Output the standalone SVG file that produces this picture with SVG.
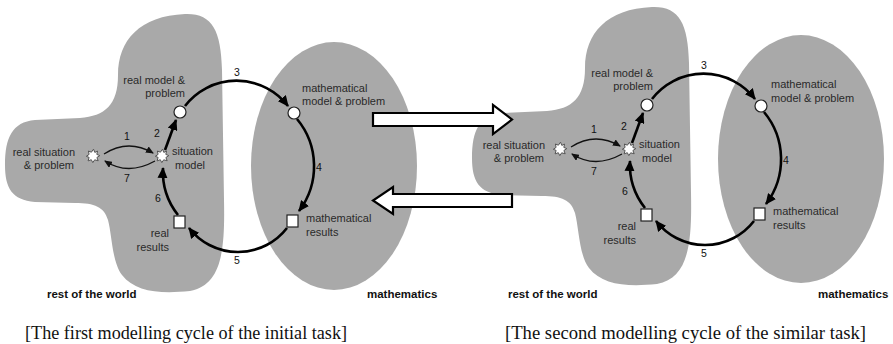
<svg xmlns="http://www.w3.org/2000/svg" xmlns:xlink="http://www.w3.org/1999/xlink" width="893" height="344" viewBox="0 0 893 344">
<style>
.blob{fill:#a9a9a9;stroke:none}
.lbl{font-family:"Liberation Sans",Arial,sans-serif;font-size:11px;fill:#2a2a2a}
.num{font-family:"Liberation Sans",Arial,sans-serif;font-size:10.5px;fill:#111}
.area{font-family:"Liberation Sans",Arial,sans-serif;font-size:11.5px;font-weight:bold;fill:#111}
.cap{font-family:"Liberation Serif","Times New Roman",serif;font-size:18px;fill:#111}
.thick{fill:none;stroke:#000;stroke-width:2.6;marker-end:url(#ah)}
.thin{fill:none;stroke:#111;stroke-width:1.3;marker-end:url(#ahs)}
.node{fill:#fff;stroke:#222;stroke-width:1.2}
.star{fill:#fff;stroke:#555;stroke-width:1}
.big{fill:#fff;stroke:#000;stroke-width:2.2;stroke-linejoin:miter}
.end{text-anchor:end}
.mid{text-anchor:middle}
</style>
<defs>
<marker id="ah" markerUnits="userSpaceOnUse" markerWidth="12" markerHeight="10" refX="10" refY="5" orient="auto" viewBox="0 0 12 10"><path d="M0,0 L11,5 L0,10 Z" fill="#000"/></marker>
<marker id="ahs" markerUnits="userSpaceOnUse" markerWidth="8" markerHeight="7" refX="7" refY="3.5" orient="auto" viewBox="0 0 8 7"><path d="M0,0 L8,3.5 L0,7 Z" fill="#111"/></marker>
<polygon id="starShape" class="star" points="0.5,-6.8 1.8,-3.6 4.6,-4.9 3.8,-1.6 6.8,-0.4 3.9,1.5 5.2,4.8 1.7,3.8 -0.2,6.6 -1.7,3.7 -4.9,4.9 -3.9,1.4 -6.7,0.3 -3.9,-1.6 -4.6,-5 -1.6,-3.8"/>
<path id="worldShape" d="M118,75 C118,40 140,16 185,14 C212,13 221,30 222,70 L224,200 C225,250 222,285 190,291 C160,294 135,292 122,275 C112,262 112,235 108,220 C104,207 95,203 75,203 L35,202 C12,200 5,188 5,165 C5,138 12,122 35,120 L80,118 C105,116 118,105 118,75 Z"/>
</defs>

<!-- background regions -->
<g id="regions">
<use xlink:href="#worldShape" class="blob"/>
<ellipse class="blob" cx="334" cy="166" rx="83" ry="124"/>
<use xlink:href="#worldShape" class="blob" transform="translate(467,-7)"/>
<ellipse class="blob" cx="801" cy="159" rx="83" ry="124"/>
</g>

<!-- transfer arrows between cycles -->
<g id="transfer">
<polygon class="big" points="373,113 493,113 493,105 512,119.5 493,134 493,126 373,126"/>
<polygon class="big" points="512,194 393,194 393,187 373,200.5 393,214 393,207 512,207"/>
</g>

<!-- first cycle -->
<g id="cycle1">
<g id="c1-connectors">
<path class="thin" d="M104,154 Q128,138.5 153,153"/>
<path class="thin" d="M155,161 Q128,176 105,161"/>
<path class="thick" d="M165,150 L176,120"/>
<path class="thick" d="M185,106 A65 65 0 0 1 288,106"/>
<path class="thick" d="M297,119 A74 74 0 0 1 299,211"/>
<path class="thick" d="M287,228 A62 62 0 0 1 189,228"/>
<path class="thick" d="M178,215 A70 70 0 0 1 163,168"/>
<text class="num mid" x="127" y="140">1</text>
<text class="num mid" x="157" y="137">2</text>
<text class="num mid" x="237" y="76">3</text>
<text class="num mid" x="319" y="171">4</text>
<text class="num mid" x="237" y="264">5</text>
<text class="num mid" x="158" y="202">6</text>
<text class="num mid" x="127" y="182">7</text>
</g>
<g id="c1-real-situation">
<use xlink:href="#starShape" x="93" y="156"/>
<text class="lbl end" x="75" y="156">real situation</text>
<text class="lbl end" x="74" y="169">&amp; problem</text>
</g>
<g id="c1-situation-model">
<use xlink:href="#starShape" x="162" y="156"/>
<text class="lbl" x="172" y="155">situation</text>
<text class="lbl" x="175" y="169">model</text>
</g>
<g id="c1-real-model">
<circle class="node" cx="180" cy="112" r="6"/>
<text class="lbl end" x="185" y="84">real model &amp;</text>
<text class="lbl end" x="185" y="97">problem</text>
</g>
<g id="c1-math-model">
<circle class="node" cx="294" cy="113" r="6"/>
<text class="lbl" x="302" y="92">mathematical</text>
<text class="lbl" x="302" y="105">model &amp; problem</text>
</g>
<g id="c1-math-results">
<rect class="node" x="287" y="215" width="11" height="12"/>
<text class="lbl" x="306" y="222">mathematical</text>
<text class="lbl" x="306" y="236">results</text>
</g>
<g id="c1-real-results">
<rect class="node" x="174" y="216" width="11" height="12"/>
<text class="lbl end" x="169" y="237">real</text>
<text class="lbl end" x="169" y="251">results</text>
</g>
</g>

<!-- second cycle -->
<g id="cycle2" transform="translate(467,-7)">
<g id="c2-connectors">
<path class="thin" d="M104,154 Q128,138.5 153,153"/>
<path class="thin" d="M155,161 Q128,176 105,161"/>
<path class="thick" d="M165,150 L176,120"/>
<path class="thick" d="M185,106 A65 65 0 0 1 288,106"/>
<path class="thick" d="M297,119 A74 74 0 0 1 299,211"/>
<path class="thick" d="M287,228 A62 62 0 0 1 189,228"/>
<path class="thick" d="M178,215 A70 70 0 0 1 163,168"/>
<text class="num mid" x="127" y="140">1</text>
<text class="num mid" x="157" y="137">2</text>
<text class="num mid" x="237" y="76">3</text>
<text class="num mid" x="319" y="171">4</text>
<text class="num mid" x="237" y="264">5</text>
<text class="num mid" x="158" y="202">6</text>
<text class="num mid" x="127" y="182">7</text>
</g>
<g id="c2-real-situation">
<use xlink:href="#starShape" x="93" y="156"/>
<text class="lbl end" x="78" y="156">real situation</text>
<text class="lbl end" x="77" y="169">&amp; problem</text>
</g>
<g id="c2-situation-model">
<use xlink:href="#starShape" x="162" y="156"/>
<text class="lbl" x="172" y="155">situation</text>
<text class="lbl" x="175" y="169">model</text>
</g>
<g id="c2-real-model">
<circle class="node" cx="180" cy="112" r="6"/>
<text class="lbl end" x="186" y="84">real model &amp;</text>
<text class="lbl end" x="186" y="97">problem</text>
</g>
<g id="c2-math-model">
<circle class="node" cx="294" cy="113" r="6"/>
<text class="lbl" x="304" y="95">mathematical</text>
<text class="lbl" x="304" y="109">model &amp; problem</text>
</g>
<g id="c2-math-results">
<rect class="node" x="287" y="215" width="11" height="12"/>
<text class="lbl" x="306" y="222">mathematical</text>
<text class="lbl" x="306" y="236">results</text>
</g>
<g id="c2-real-results">
<rect class="node" x="174" y="216" width="11" height="12"/>
<text class="lbl end" x="169" y="237">real</text>
<text class="lbl end" x="169" y="251">results</text>
</g>
</g>

<!-- region and caption labels -->
<g id="labels">
<text class="area" x="47" y="298">rest of the world</text>
<text class="area" x="367" y="298">mathematics</text>
<text class="area" x="508" y="298">rest of the world</text>
<text class="area" x="818" y="298">mathematics</text>
<text class="cap" x="25" y="339" textLength="322" lengthAdjust="spacingAndGlyphs">[The first modelling cycle of the initial task]</text>
<text class="cap" x="505" y="339" textLength="361" lengthAdjust="spacingAndGlyphs">[The second modelling cycle of the similar task]</text>
</g>
</svg>
